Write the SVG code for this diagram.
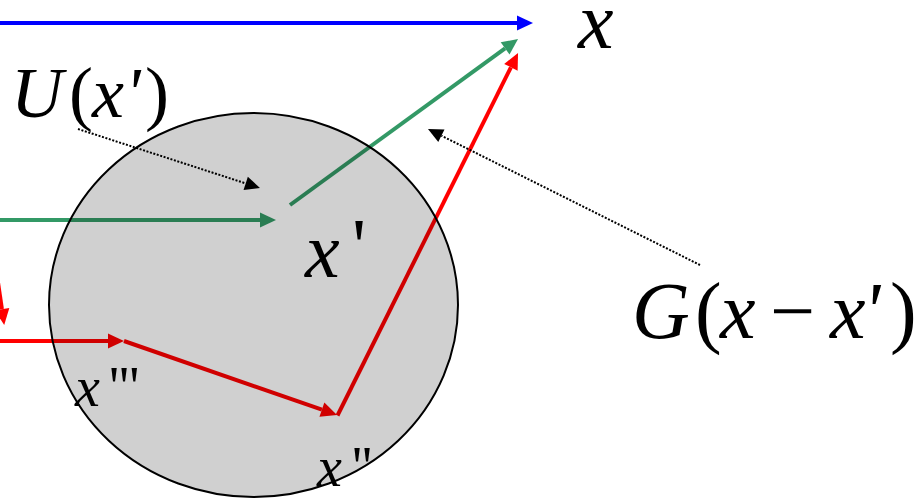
<svg xmlns="http://www.w3.org/2000/svg" width="916" height="499" viewBox="0 0 916 499">
<style>
.ln{fill:none;stroke-width:4;stroke-linecap:butt}
.dot{fill:none;stroke:#000;stroke-width:2;stroke-dasharray:2 1.6}
.it{font-family:"Liberation Serif","Times New Roman",serif;font-style:italic;fill:#000}
.up{font-family:"Liberation Serif","Times New Roman",serif;font-style:normal;fill:#000}
</style>
<defs>
<marker id="hb" markerUnits="userSpaceOnUse" markerWidth="16" markerHeight="15" refX="0" refY="7.5" orient="auto" overflow="visible"><path d="M0,0 L16,7.5 L0,15 z" fill="#0000FF"/></marker>
<marker id="hg" markerUnits="userSpaceOnUse" markerWidth="16" markerHeight="15" refX="0" refY="7.5" orient="auto" overflow="visible"><path d="M0,0 L16,7.5 L0,15 z" fill="#339966"/></marker>
<marker id="hr" markerUnits="userSpaceOnUse" markerWidth="16" markerHeight="15" refX="0" refY="7.5" orient="auto" overflow="visible"><path d="M0,0 L16,7.5 L0,15 z" fill="#FF0000"/></marker>
<marker id="hk" markerUnits="userSpaceOnUse" markerWidth="15" markerHeight="14" refX="0" refY="7" orient="auto" overflow="visible"><path d="M0,0 L15,7 L0,14 z" fill="#000"/></marker>
</defs>
<rect width="916" height="499" fill="#fff"/>
<g id="connectors">
<line class="ln" x1="0" y1="23" x2="517" y2="23" stroke="#0000FF" marker-end="url(#hb)"/>
<line class="ln" x1="0" y1="220" x2="260" y2="220" stroke="#339966" marker-end="url(#hg)"/>
<line class="ln" x1="290" y1="205" x2="505.1" y2="48.4" stroke="#339966" marker-end="url(#hg)"/>
<line class="ln" x1="0" y1="341" x2="108" y2="341" stroke="#FF0000" marker-end="url(#hr)"/>
<line class="ln" x1="124" y1="341" x2="321.9" y2="409.7" stroke="#FF0000" marker-end="url(#hr)"/>
<line class="ln" x1="337.5" y1="415.5" x2="510.9" y2="67.3" stroke="#FF0000" marker-end="url(#hr)"/>
<line class="ln" x1="-6" y1="255" x2="1.9" y2="309.1" stroke="#FF0000" marker-end="url(#hr)"/>
<line class="dot" x1="78" y1="129" x2="245.7" y2="183.4" marker-end="url(#hk)"/>
<line class="dot" x1="700" y1="265" x2="441.4" y2="135.7" marker-end="url(#hk)"/>
</g>
<g id="region" style="mix-blend-mode:multiply">
<ellipse cx="253.5" cy="305" rx="204.5" ry="192" fill="#D0D0D0" stroke="#000" stroke-width="2"/>
</g>
<g id="label-x">
<text class="it" x="578" y="48" font-size="80">x</text>
</g>
<g id="label-U">
<text class="it" x="11" y="117" font-size="72">U</text>
<text class="up" x="69" y="117" font-size="72">(</text>
<text class="it" x="92" y="117" font-size="72">x<tspan x="125">'</tspan></text>
<text class="up" x="145" y="117" font-size="72">)</text>
</g>
<g id="label-xp">
<text class="it" x="305" y="277" font-size="78">x</text>
<text class="up" x="352" y="272" font-size="78">'</text>
</g>
<g id="label-xpp">
<text class="it" x="317" y="486" font-size="56">x</text>
<text class="up" x="352" y="486" font-size="56">''</text>
</g>
<g id="label-xppp">
<text class="it" x="75" y="406" font-size="56">x</text>
<text class="up" x="109" y="406" font-size="56">'''</text>
</g>
<g id="label-G">
<text class="it" x="632" y="338" font-size="80">G</text>
<text class="up" x="695" y="338" font-size="80">(</text>
<text class="it" x="720" y="338" font-size="80">x</text>
<text class="up" x="770" y="338" font-size="80">−</text>
<text class="it" x="830" y="338" font-size="80">x<tspan x="863">'</tspan></text>
<text class="up" x="890" y="338" font-size="80">)</text>
</g>
</svg>
